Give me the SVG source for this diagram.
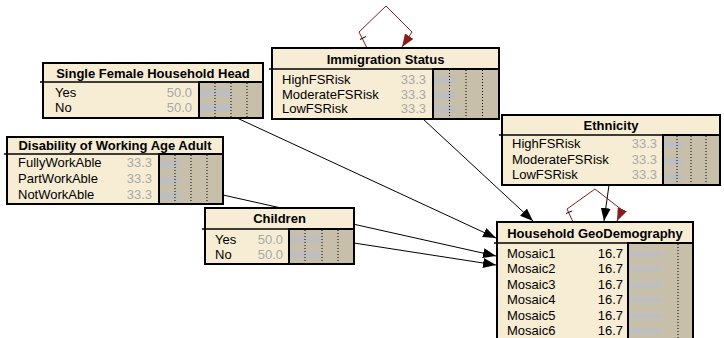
<svg xmlns="http://www.w3.org/2000/svg" width="724" height="338" viewBox="0 0 724 338">
<defs>
<style>
.box{fill:#F7EDD4;stroke:#000;stroke-width:2}
.bars{fill:#C8BFAA;stroke:#000;stroke-width:2}
.bar{fill:#BEBEBE}
.dot{stroke:#000;stroke-width:1;stroke-dasharray:1,2}
.div{stroke:#000;stroke-width:1.5}
.title{font-family:"Liberation Sans",Arial,sans-serif;font-size:13px;font-weight:bold;text-anchor:middle;fill:#000}
.lbl{font-family:"Liberation Sans",Arial,sans-serif;font-size:13px;fill:#000}
.val{font-family:"Liberation Sans",Arial,sans-serif;font-size:13px;fill:#A8A8A8;text-anchor:end}
.valb{font-family:"Liberation Sans",Arial,sans-serif;font-size:13px;fill:#000;text-anchor:end}
.link{stroke:#000;stroke-width:1;fill:none;marker-end:url(#arr)}
.loop{stroke:#8B1A1A;stroke-width:1;fill:none;marker-end:url(#arrR)}
.tick{stroke:#000;stroke-width:1}
</style>
<marker id="arr" markerUnits="userSpaceOnUse" markerWidth="13" markerHeight="10" refX="13" refY="5" orient="auto">
<path d="M0,0 L13,5 L0,10 z" fill="#000"/>
</marker>
<marker id="arrR" markerUnits="userSpaceOnUse" markerWidth="13" markerHeight="10" refX="13" refY="5" orient="auto">
<path d="M0,0 L13,5 L0,10 z" fill="#8B1A1A"/>
</marker>
</defs>
<rect width="724" height="338" fill="#fff"/>

<g id="connectors">
<line class="link" x1="237" y1="118" x2="496" y2="238"/>
<line class="link" x1="223" y1="195" x2="496" y2="256"/>
<line class="link" x1="354" y1="243" x2="496" y2="265"/>
<line class="link" x1="423" y1="119" x2="533" y2="221"/>
<line class="link" x1="609" y1="185" x2="604" y2="221"/>
<polyline class="loop" points="367,48 359,32 386,6 412,32 402,47"/>
<line class="tick" x1="360" y1="39.5" x2="366" y2="36.5"/>
<polyline class="loop" points="573,222 567,209 595,189 622,210 617,221"/>
<line class="tick" x1="566" y1="213.5" x2="572" y2="211"/>
</g>

<g id="node-immigration">
<rect class="box" x="272" y="48" width="227" height="71"/>
<line class="div" x1="269" y1="69" x2="499" y2="69"/>
<rect class="bars" x="433" y="69" width="66" height="50"/>
<rect class="bar" x="434" y="77" width="21" height="7"/>
<rect class="bar" x="434" y="92" width="21" height="7"/>
<rect class="bar" x="434" y="106" width="21" height="7"/>
<line class="dot" x1="449.5" y1="70" x2="449.5" y2="118"/>
<line class="dot" x1="466" y1="70" x2="466" y2="118"/>
<line class="dot" x1="482.5" y1="70" x2="482.5" y2="118"/>
<text class="title" x="385.5" y="64">Immigration Status</text>
<text class="lbl" x="282" y="84">HighFSRisk</text>
<text class="lbl" x="282" y="99">ModerateFSRisk</text>
<text class="lbl" x="282" y="113">LowFSRisk</text>
<text class="val" x="426" y="84">33.3</text>
<text class="val" x="426" y="99">33.3</text>
<text class="val" x="426" y="113">33.3</text>
</g>

<g id="node-single-female">
<rect class="box" x="43" y="63" width="220" height="55"/>
<line class="div" x1="40" y1="82" x2="263" y2="82"/>
<rect class="bars" x="199" y="82" width="64" height="36"/>
<rect class="bar" x="200" y="89" width="32" height="8"/>
<rect class="bar" x="200" y="104" width="32" height="8"/>
<line class="dot" x1="215" y1="83" x2="215" y2="117"/>
<line class="dot" x1="231" y1="83" x2="231" y2="117"/>
<line class="dot" x1="247" y1="83" x2="247" y2="117"/>
<text class="title" x="153" y="78">Single Female Household Head</text>
<text class="lbl" x="55" y="97">Yes</text>
<text class="lbl" x="55" y="112">No</text>
<text class="val" x="192" y="97">50.0</text>
<text class="val" x="192" y="112">50.0</text>
</g>

<g id="node-disability">
<rect class="box" x="7" y="137" width="216" height="67"/>
<line class="div" x1="4" y1="154" x2="223" y2="154"/>
<rect class="bars" x="159" y="154" width="64" height="50"/>
<rect class="bar" x="160" y="161" width="21" height="7"/>
<rect class="bar" x="160" y="177" width="21" height="7"/>
<rect class="bar" x="160" y="193" width="21" height="7"/>
<line class="dot" x1="175" y1="155" x2="175" y2="203"/>
<line class="dot" x1="191" y1="155" x2="191" y2="203"/>
<line class="dot" x1="207" y1="155" x2="207" y2="203"/>
<text class="title" x="115" y="150">Disability of Working Age Adult</text>
<text class="lbl" x="18" y="167">FullyWorkAble</text>
<text class="lbl" x="18" y="183">PartWorkAble</text>
<text class="lbl" x="18" y="199">NotWorkAble</text>
<text class="val" x="152" y="167">33.3</text>
<text class="val" x="152" y="183">33.3</text>
<text class="val" x="152" y="199">33.3</text>
</g>

<g id="node-children">
<rect class="box" x="205" y="208" width="149" height="56"/>
<line class="div" x1="202" y1="229" x2="354" y2="229"/>
<rect class="bars" x="289" y="229" width="65" height="35"/>
<rect class="bar" x="290" y="236" width="32" height="7"/>
<rect class="bar" x="290" y="251" width="32" height="7"/>
<line class="dot" x1="305" y1="230" x2="305" y2="263"/>
<line class="dot" x1="322" y1="230" x2="322" y2="263"/>
<line class="dot" x1="338" y1="230" x2="338" y2="263"/>
<text class="title" x="279.5" y="223">Children</text>
<text class="lbl" x="215" y="244">Yes</text>
<text class="lbl" x="215" y="259">No</text>
<text class="val" x="283" y="244">50.0</text>
<text class="val" x="283" y="259">50.0</text>
</g>

<g id="node-ethnicity">
<rect class="box" x="502" y="115" width="218" height="70"/>
<line class="div" x1="499" y1="135" x2="720" y2="135"/>
<rect class="bars" x="663" y="135" width="57" height="50"/>
<rect class="bar" x="664" y="141" width="19" height="7"/>
<rect class="bar" x="664" y="158" width="19" height="7"/>
<rect class="bar" x="664" y="173" width="19" height="7"/>
<line class="dot" x1="677" y1="136" x2="677" y2="184"/>
<line class="dot" x1="691" y1="136" x2="691" y2="184"/>
<line class="dot" x1="706" y1="136" x2="706" y2="184"/>
<text class="title" x="611" y="130">Ethnicity</text>
<text class="lbl" x="512" y="148">HighFSRisk</text>
<text class="lbl" x="512" y="164">ModerateFSRisk</text>
<text class="lbl" x="512" y="179">LowFSRisk</text>
<text class="val" x="657" y="148">33.3</text>
<text class="val" x="657" y="164">33.3</text>
<text class="val" x="657" y="179">33.3</text>
</g>

<g id="node-household">
<rect class="box" x="497" y="222" width="196" height="130"/>
<line class="div" x1="494" y1="243" x2="693" y2="243"/>
<rect class="bars" x="628" y="243" width="65" height="109"/>
<rect class="bar" x="629" y="251" width="33" height="6"/>
<rect class="bar" x="629" y="266" width="33" height="6"/>
<rect class="bar" x="629" y="282" width="33" height="6"/>
<rect class="bar" x="629" y="297" width="33" height="6"/>
<rect class="bar" x="629" y="313" width="33" height="6"/>
<rect class="bar" x="629" y="328" width="33" height="6"/>
<line class="dot" x1="678" y1="244" x2="678" y2="338"/>
<text class="title" x="595" y="237.5">Household GeoDemography</text>
<text class="lbl" x="507" y="258">Mosaic1</text>
<text class="lbl" x="507" y="273">Mosaic2</text>
<text class="lbl" x="507" y="289">Mosaic3</text>
<text class="lbl" x="507" y="304">Mosaic4</text>
<text class="lbl" x="507" y="320">Mosaic5</text>
<text class="lbl" x="507" y="335">Mosaic6</text>
<text class="valb" x="623" y="258">16.7</text>
<text class="valb" x="623" y="273">16.7</text>
<text class="valb" x="623" y="289">16.7</text>
<text class="valb" x="623" y="304">16.7</text>
<text class="valb" x="623" y="320">16.7</text>
<text class="valb" x="623" y="335">16.7</text>
</g>
</svg>
